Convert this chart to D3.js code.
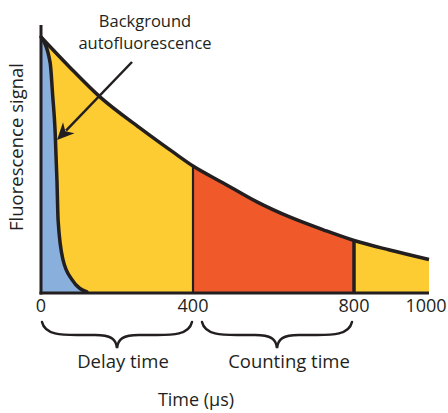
<!DOCTYPE html>
<html><head><meta charset="utf-8">
<script src="https://cdn.jsdelivr.net/npm/d3@7"></script>
<style>body{margin:0;background:#fff}svg{display:block}text{font-family:"Open Sans",sans-serif;fill:#231f20}</style>
</head><body>
<svg id="c" width="448" height="413"></svg>
<script>
// Data
const tickValues = [0, 400, 800, 1000];
const signalTime = [0, 75, 155, 260, 347, 400, 475, 560, 640, 725, 800, 895, 1000];
const signalValue = [100, 88.3, 76.6, 64.5, 55.1, 49.6, 43, 35.5, 29.7, 24.6, 20.5, 16.8, 13.1];
const bgTime = [0, 24, 31, 37, 42, 45, 58, 82, 121];
const bgValue = [100, 90, 76.6, 63.7, 44, 28.5, 12.9, 5.1, 0.4];
const windows = [{label: "Delay time", from: 0, to: 400}, {label: "Counting time", from: 400, to: 800}];

const svg = d3.select("#c");
const x = d3.scaleLinear().domain([0, 400, 800, 1000]).range([41, 193, 354, 429]);
const y = d3.scaleLinear().domain([0, 100]).range([293, 37]);

const sig = signalTime.map((t, i) => ({t, v: signalValue[i]}));
const bg = bgTime.map((t, i) => ({t, v: bgValue[i]}));
const curve = d3.curveMonotoneX;
const area = d3.area().x(d => x(d.t)).y0(y(0)).y1(d => y(d.v)).curve(curve);
const line = d3.line().x(d => x(d.t)).y(d => y(d.v)).curve(curve);

const defs = svg.append("defs");
defs.append("clipPath").attr("id", "cw").append("rect")
  .attr("x", x(400)).attr("y", 0).attr("width", x(800) - x(400)).attr("height", 413);

svg.append("path").datum(sig).attr("d", area).attr("fill", "#fdcc33");
svg.append("path").datum(sig).attr("d", area).attr("fill", "#f05a2b").attr("clip-path", "url(#cw)");
svg.append("path").datum(bg).attr("d", area).attr("fill", "#89b0dd");

svg.append("path").datum(bg).attr("d", line).attr("fill", "none").attr("stroke", "#231f20").attr("stroke-width", 3.5).attr("stroke-linecap", "round");
svg.append("path").datum(sig).attr("d", line).attr("fill", "none").attr("stroke", "#231f20").attr("stroke-width", 3.5);

// window dividers
const valAt = t => signalValue[signalTime.indexOf(t)];
svg.append("line").attr("x1", x(400)).attr("x2", x(400)).attr("y1", y(0)).attr("y2", y(valAt(400)))
  .attr("stroke", "#231f20").attr("stroke-width", 2.2);
svg.append("line").attr("x1", x(800)).attr("x2", x(800)).attr("y1", y(0)).attr("y2", y(valAt(800)))
  .attr("stroke", "#231f20").attr("stroke-width", 3.5);

// axes
svg.append("line").attr("x1", x(0)).attr("x2", x(0)).attr("y1", 25).attr("y2", y(0) + 1.5)
  .attr("stroke", "#231f20").attr("stroke-width", 3);
svg.append("line").attr("x1", x(0) - 1.5).attr("x2", x(1000)).attr("y1", y(0)).attr("y2", y(0))
  .attr("stroke", "#231f20").attr("stroke-width", 3);

svg.selectAll(".tk").data(tickValues).enter().append("text")
  .attr("x", d => x(d) + (d === 1000 ? -3 : 0)).attr("y", 312).attr("text-anchor", "middle")
  .attr("font-size", 18).text(d => d);

// braces
function brace(x0, x1, y0) {
  const xm = (x0 + x1) / 2, h = 13;
  return `M${x0},${y0} C${x0 + 3},${y0 + h} ${x0 + 20},${y0 + h} ${x0 + 35},${y0 + h} ` +
    `L${xm - 22},${y0 + h} C${xm - 6},${y0 + h} ${xm - 1},${y0 + h + 4} ${xm},${y0 + 2 * h} ` +
    `C${xm + 1},${y0 + h + 4} ${xm + 6},${y0 + h} ${xm + 22},${y0 + h} ` +
    `L${x1 - 35},${y0 + h} C${x1 - 20},${y0 + h} ${x1 - 3},${y0 + h} ${x1},${y0}`;
}
windows.forEach((w, i) => {
  const x0 = x(w.from) + (i === 0 ? 1 : 9), x1 = x(w.to) - (i === 0 ? 1 : 2);
  svg.append("path").attr("d", brace(x0, x1, 322)).attr("fill", "none")
    .attr("stroke", "#231f20").attr("stroke-width", 2.5).attr("stroke-linecap", "round");
  svg.append("text").attr("x", (x0 + x1) / 2 + (i === 0 ? 6 : 12)).attr("y", 368)
    .attr("text-anchor", "middle").attr("font-size", 18.5).text(w.label);
});

// axis titles
svg.append("text").attr("x", 196).attr("y", 406).attr("text-anchor", "middle").attr("font-size", 18).text("Time (µs)");
svg.append("text").attr("transform", "translate(23,147) rotate(-90)").attr("text-anchor", "middle")
  .attr("font-size", 18.5).text("Fluorescence signal");

// annotation
svg.append("text").attr("x", 145).attr("y", 27).attr("text-anchor", "middle").attr("font-size", 16.5).text("Background");
svg.append("text").attr("x", 145).attr("y", 49).attr("text-anchor", "middle").attr("font-size", 16.5).text("autofluorescence");
const ax0 = 132, ay0 = 62, ax1 = 57, ay1 = 140;
const ang = Math.atan2(ay1 - ay0, ax1 - ax0);
const L = 17, W = 8;
const bx = ax1 - L * Math.cos(ang), by = ay1 - L * Math.sin(ang);
const nx = -Math.sin(ang), ny = Math.cos(ang);
svg.append("line").attr("x1", ax0).attr("y1", ay0).attr("x2", bx + 4 * Math.cos(ang)).attr("y2", by + 4 * Math.sin(ang))
  .attr("stroke", "#231f20").attr("stroke-width", 2.5);
const cx = ax1 - (L - 5) * Math.cos(ang), cy = ay1 - (L - 5) * Math.sin(ang);
svg.append("path").attr("d", `M${ax1},${ay1} L${bx + W * nx},${by + W * ny} L${cx},${cy} L${bx - W * nx},${by - W * ny} Z`)
  .attr("fill", "#231f20");
</script>
</body></html>
